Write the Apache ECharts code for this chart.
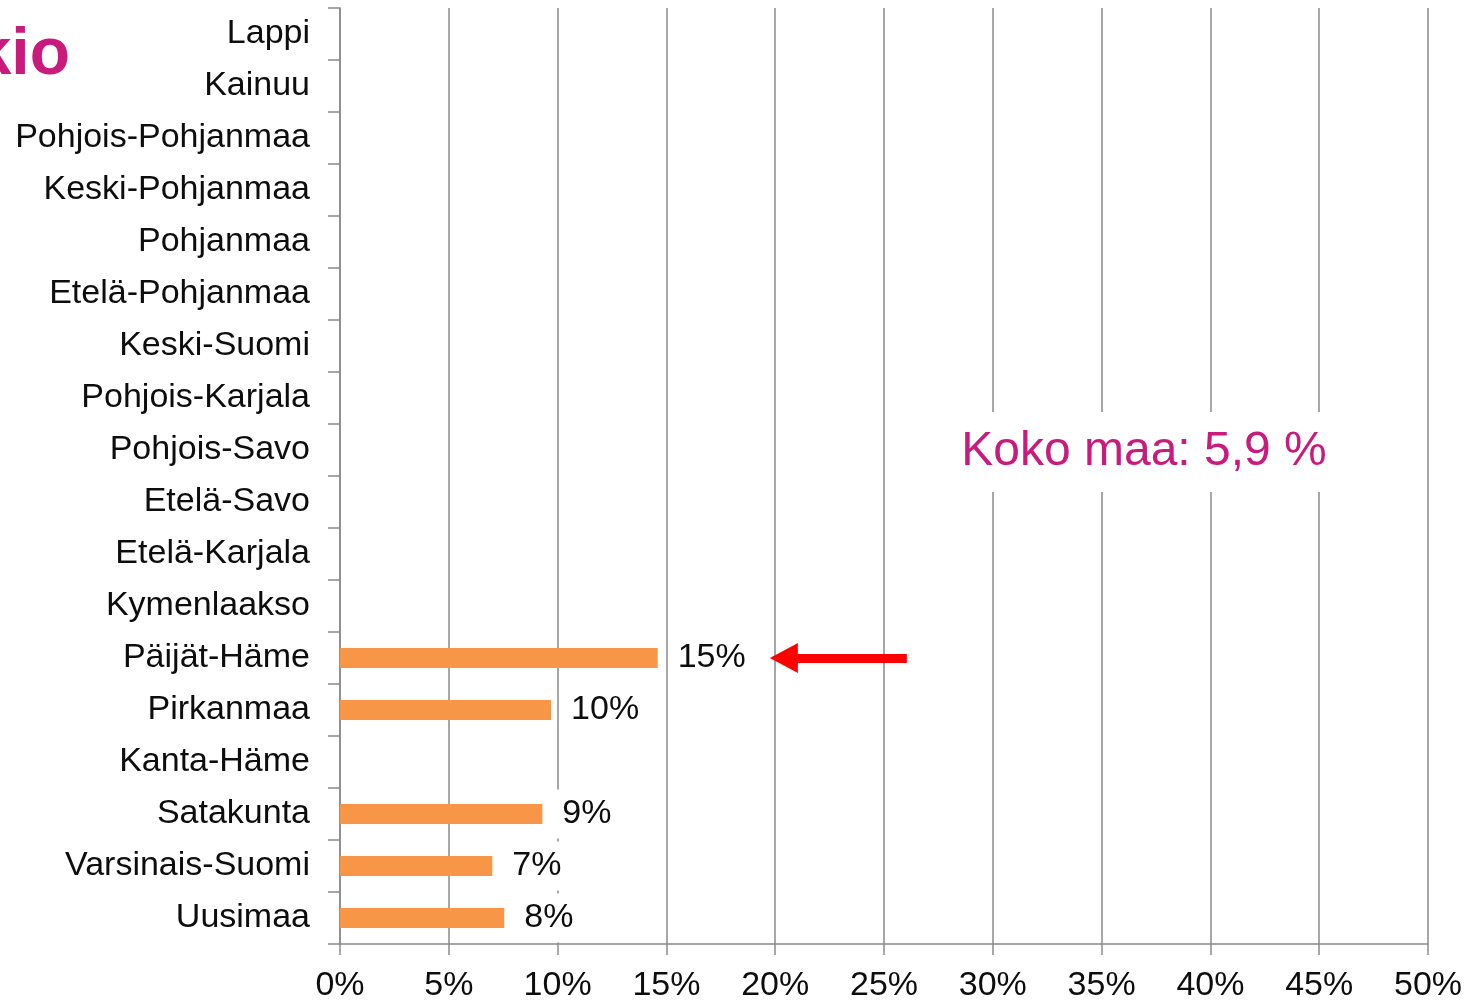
<!DOCTYPE html>
<html>
<head>
<meta charset="utf-8">
<script src="https://cdn.jsdelivr.net/npm/echarts@6/dist/echarts.min.js"></script>
<style>
  html, body { margin: 0; padding: 0; background: #fff; }
  #main { width: 1468px; height: 1000px; }
</style>
</head>
<body>
<div id="main"></div>
<script>
// maakunnat alhaalta ylös
const regions = ['Uusimaa', 'Varsinais-Suomi', 'Satakunta', 'Kanta-Häme', 'Pirkanmaa', 'Päijät-Häme',
  'Kymenlaakso', 'Etelä-Karjala', 'Etelä-Savo', 'Pohjois-Savo', 'Pohjois-Karjala', 'Keski-Suomi',
  'Etelä-Pohjanmaa', 'Pohjanmaa', 'Keski-Pohjanmaa', 'Pohjois-Pohjanmaa', 'Kainuu', 'Lappi'];
const shares = [7.55, 7.0, 9.3, '-', 9.7, 14.6, '-', '-', '-', '-', '-', '-', '-', '-', '-', '-', '-', '-'];
const xTicks = [0, 5, 10, 15, 20, 25, 30, 35, 40, 45, 50];
const arrowFrom = [26.05, 'Päijät-Häme'];
const arrowTo = [20.4, 'Päijät-Häme'];

const FONT = '"Liberation Sans", Arial, sans-serif';
const MAGENTA = '#C81B7C';

const chart = echarts.init(document.getElementById('main'));

chart.setOption({
  animation: false,
  grid: { left: 340, right: 40, top: 8, bottom: 56, containLabel: false, outerBoundsMode: 'none' },
  xAxis: {
    type: 'value',
    min: xTicks[0],
    max: xTicks[xTicks.length - 1],
    interval: 5,
    axisLine: { show: true, lineStyle: { color: '#8a8a8a', width: 1.5 } },
    axisTick: { show: true, length: 11, lineStyle: { color: '#8a8a8a', width: 1.5 } },
    axisLabel: { formatter: '{value}%', fontSize: 34, fontFamily: FONT, color: '#0d0d0d', margin: 25 },
    splitLine: { show: true, lineStyle: { color: '#8a8a8a', width: 1.5 } }
  },
  yAxis: {
    type: 'category',
    data: regions,
    axisLine: { show: true, lineStyle: { color: '#8a8a8a', width: 1.5 } },
    axisTick: { show: true, length: 12, lineStyle: { color: '#8a8a8a', width: 1.5 } },
    axisLabel: { fontSize: 34, fontFamily: FONT, color: '#0d0d0d', margin: 30, interval: 0 }
  },
  series: [{
    type: 'bar',
    data: shares,
    barWidth: 20,
    itemStyle: { color: '#F79646' },
    label: {
      show: true,
      position: 'right',
      distance: 14,
      formatter: p => Math.round(p.value) + '%',
      fontSize: 34,
      fontFamily: FONT,
      color: '#0d0d0d',
      backgroundColor: '#fff',
      padding: [8, 6, 7, 6]
    },
    markLine: {
      silent: true,
      symbol: ['none', 'triangle'],
      symbolSize: [30, 28],
      label: { show: false },
      lineStyle: { color: '#ff0000', width: 9, type: 'solid' },
      data: [[{ coord: arrowFrom }, { coord: arrowTo }]]
    }
  }],
  graphic: [
    {
      type: 'text',
      x: 70, y: 56,
      z: 100,
      style: {
        text: 'kio',
        font: 'bold 66px ' + FONT,
        fill: MAGENTA,
        align: 'right',
        verticalAlign: 'middle'
      }
    },
    {
      type: 'text',
      x: 1144, y: 452,
      z: 100,
      style: {
        text: 'Koko maa: 5,9 %',
        font: '48px ' + FONT,
        fill: MAGENTA,
        align: 'center',
        verticalAlign: 'middle',
        backgroundColor: '#fff',
        padding: [16, 4]
      }
    }
  ]
});
</script>
</body>
</html>
